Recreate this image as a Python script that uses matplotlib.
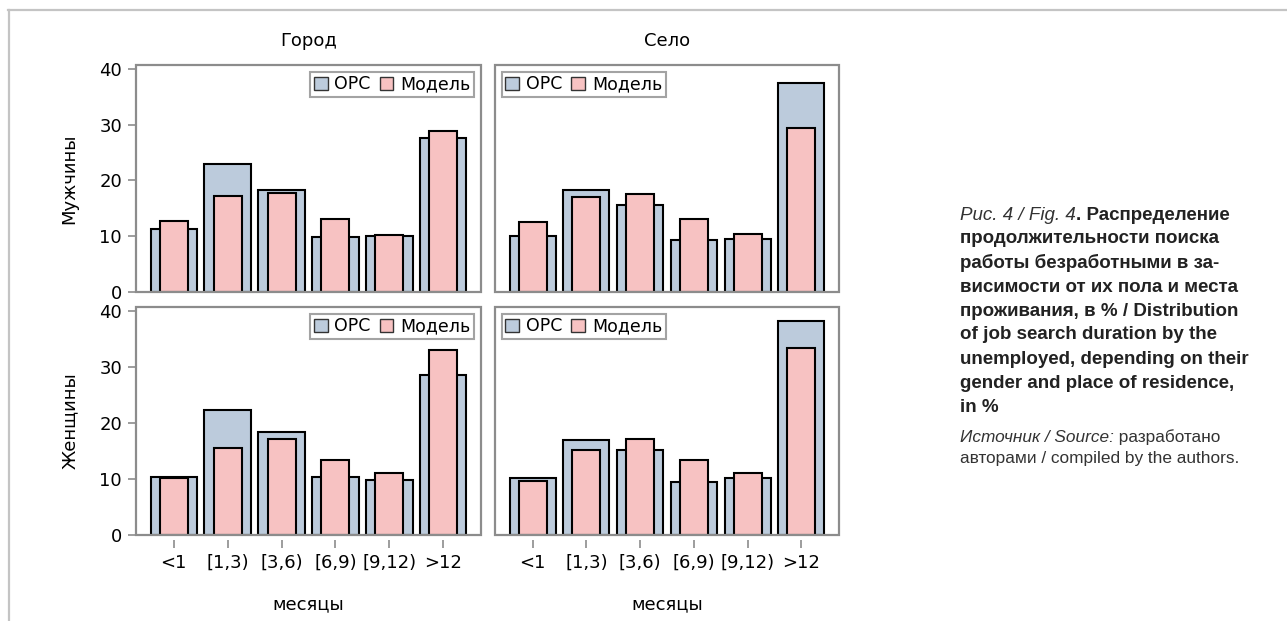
import matplotlib
matplotlib.use("Agg")
import matplotlib.pyplot as plt
from matplotlib.patches import Patch, Rectangle
from matplotlib.lines import Line2D

# данные, %
categories = ['<1', '[1,3)', '[3,6)', '[6,9)', '[9,12)', '>12']
cols = ['Город', 'Село']
rows = ['Мужчины', 'Женщины']

ops_city_men = [11.3, 23.0, 18.2, 9.9, 10.0, 27.7]
mod_city_men = [12.8, 17.3, 17.7, 13.0, 10.3, 28.8]
ops_vil_men = [10.1, 18.3, 15.6, 9.3, 9.5, 37.4]
mod_vil_men = [12.5, 17.0, 17.6, 13.0, 10.4, 29.4]
ops_city_wom = [10.4, 22.4, 18.3, 10.4, 9.9, 28.5]
mod_city_wom = [10.1, 15.5, 17.2, 13.3, 11.0, 33.0]
ops_vil_wom = [10.1, 17.0, 15.1, 9.5, 10.2, 38.2]
mod_vil_wom = [9.7, 15.2, 17.1, 13.3, 11.0, 33.3]

W, H = 1287, 621
blue = '#bccbdc'
pink = '#f7c2c2'
grey = '#8c8c8c'

plt.rcParams['font.family'] = ['DejaVu Sans']
fig = plt.figure(figsize=(W / 100, H / 100), dpi=100)


def box(l, t, r, b):
    return [l / W, 1 - b / H, (r - l) / W, (b - t) / H]


panels = [
    (box(136, 65, 481, 292), ops_city_men, mod_city_men, 0, 0),
    (box(495, 65, 839, 292), ops_vil_men, mod_vil_men, 0, 1),
    (box(136, 307, 481, 535), ops_city_wom, mod_city_wom, 1, 0),
    (box(495, 307, 839, 535), ops_vil_wom, mod_vil_wom, 1, 1),
]

x = list(range(len(categories)))
for pos, ops, mod, r, c in panels:
    ax = fig.add_axes(pos)
    ax.bar(x, ops, width=0.86, color=blue, edgecolor='black', linewidth=1.5, zorder=2)
    ax.bar(x, mod, width=0.52, color=pink, edgecolor='black', linewidth=1.5, zorder=3)
    ax.set_xlim(-0.7, 5.7)
    ax.set_ylim(0, 40.7)
    for s in ax.spines.values():
        s.set_visible(False)
    # рамка панели
    ax.add_patch(Rectangle((0, 0), 1, 1, transform=ax.transAxes, fill=False,
                           edgecolor=grey, linewidth=1.6, zorder=5, clip_on=False))
    ax.spines['bottom'].set_position(('outward', 3.6))
    ax.set_xticks(x)
    if r == 1:
        ax.set_xticklabels(categories, fontsize=13)
        ax.tick_params(axis='x', length=5.8, width=1.2, color=grey, pad=4)
        ax.set_xlabel('месяцы', fontsize=13, labelpad=17)
    else:
        ax.tick_params(axis='x', length=0, labelbottom=False)
    ax.set_yticks([0, 10, 20, 30, 40])
    if c == 0:
        ax.tick_params(axis='y', length=6, width=1.2, color=grey, labelsize=13, pad=4)
        ax.set_ylabel(rows[r], fontsize=13, labelpad=15)
    else:
        ax.tick_params(axis='y', length=0, labelleft=False)
    if r == 0:
        ax.set_title(cols[c], fontsize=13, pad=14)
    handles = [Patch(facecolor=blue, edgecolor='#333333', linewidth=1.0, label='ОРС'),
               Patch(facecolor=pink, edgecolor='#333333', linewidth=1.0, label='Модель')]
    leg = ax.legend(handles=handles, loc='upper right' if c == 0 else 'upper left',
                    ncol=2, fontsize=12.5, frameon=True, fancybox=False,
                    handlelength=0.8, handleheight=0.8, handletextpad=0.4,
                    columnspacing=0.5, borderpad=0.2, borderaxespad=0.4)
    leg.get_frame().set_edgecolor(grey)
    leg.get_frame().set_linewidth(1.5)
    leg.set_zorder(6)

# рамка рисунка
fig.add_artist(Line2D([8 / W, 1], [1 - 10 / H, 1 - 10 / H], color='#c4c4c4', linewidth=1.6))
fig.add_artist(Line2D([9 / W, 9 / W], [1 - 10 / H, 0], color='#c4c4c4', linewidth=1.6))

# подпись
cap_font = ['Liberation Sans']
tx = 960 / W
renderer = fig.canvas.get_renderer()
t0 = fig.text(tx, 1 - 215 / H, 'Рис. 4 / Fig. 4', fontsize=13.5, style='italic',
              family=cap_font, color='#333333', va='center')
bb = t0.get_window_extent(renderer)
fig.text(bb.x1 / W, 1 - 215 / H, '. Распределение', fontsize=13.5, weight='bold',
         family=cap_font, color='#222222', va='center')
cap_lines = ['продолжительности поиска',
             'работы безработными в за-',
             'висимости от их пола и места',
             'проживания, в % / Distribution',
             'of job search duration by the',
             'unemployed, depending on their',
             'gender and place of residence,',
             'in %']
for i, line in enumerate(cap_lines):
    fig.text(tx, 1 - (215 + 24 * (i + 1)) / H, line, fontsize=13.5, weight='bold',
             family=cap_font, color='#222222', va='center')

s0 = fig.text(tx, 1 - 437 / H, 'Источник / Source:', fontsize=12.4, style='italic',
              family=cap_font, color='#333333', va='center')
bb = s0.get_window_extent(renderer)
fig.text(bb.x1 / W, 1 - 437 / H, ' разработано', fontsize=12.4,
         family=cap_font, color='#333333', va='center')
fig.text(tx, 1 - 458 / H, 'авторами / compiled by the authors.', fontsize=12.4,
         family=cap_font, color='#333333', va='center')

fig.savefig('out.png', dpi=100)
